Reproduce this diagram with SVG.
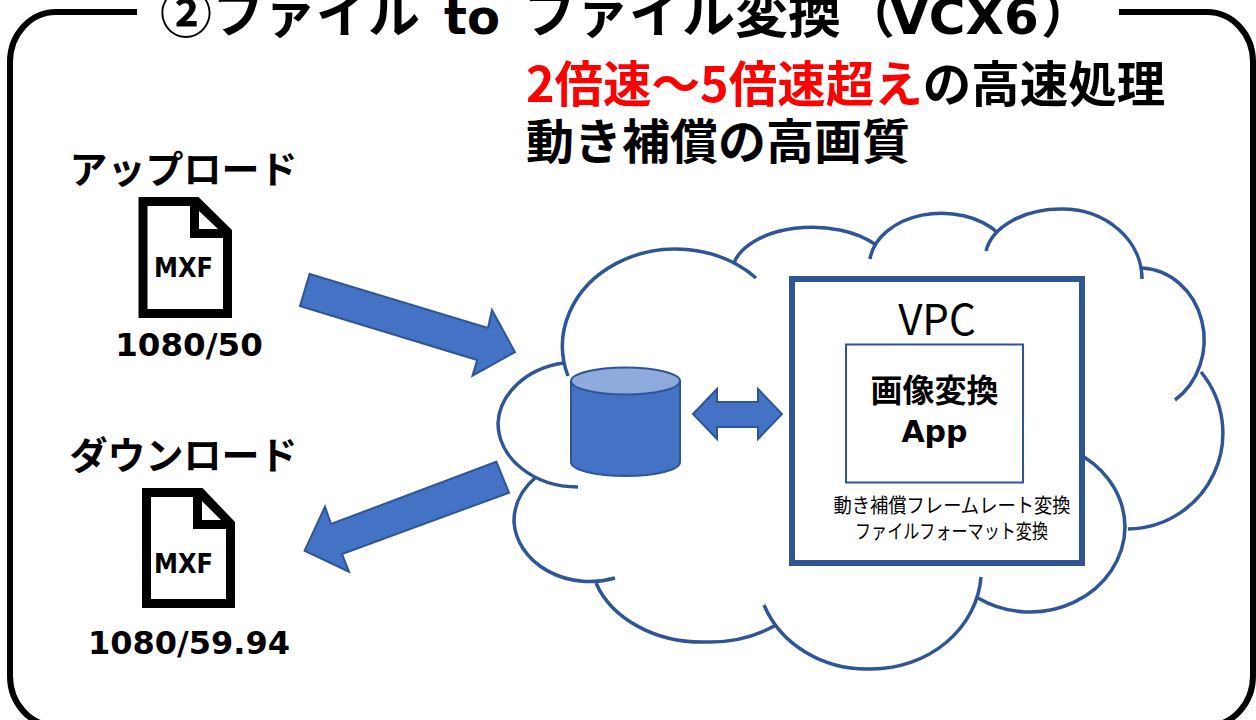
<svg xmlns="http://www.w3.org/2000/svg" width="1256" height="720" viewBox="0 0 1256 720">
<style>
.j{font-family:"Noto Sans CJK JP","Noto Sans",sans-serif;font-weight:700;fill:#000}
.l{font-family:"DejaVu Sans",sans-serif;font-weight:700;fill:#000}
.n{font-family:"Noto Sans CJK JP","Noto Sans",sans-serif;font-weight:400;fill:#000}
.c{fill:none;stroke:#2f5597;stroke-width:3.5}
.b{fill:#4472c4;stroke:#2f5597;stroke-width:2}
</style>
<rect width="1256" height="720" fill="#fff"/>
<path id="frame" d="M137 12H56A46 50 0 0 0 10 62V676A46 50 0 0 0 56 726H1207A46 50 0 0 0 1253 676V62A46 50 0 0 0 1207 12H1119" fill="none" stroke="#000" stroke-width="6"/>
<g id="title">
<text class="j" x="160" y="33" font-size="52">②ファイル</text>
<text class="l" x="444" y="34" font-size="48">to</text>
<text class="j" x="523" y="33" font-size="53">ファイル変換</text>
<text class="j" x="843" y="33" font-size="52">（</text>
<text class="l" x="890" y="33.500" font-size="50">VCX6</text>
<text class="j" x="1041" y="33" font-size="52">）</text>
</g>
<g id="headline">
<text class="j" x="526" y="102" font-size="48.500"><tspan fill="#f00">2倍速～5倍速超え</tspan>の高速処理</text>
<text class="j" x="526" y="159" font-size="48">動き補償の高画質</text>
</g>
<g id="cloud">
<path class="c" d="M568 376A113 97 0 0 1 756 278"/>
<path class="c" d="M734 263A80 45 0 0 1 876 245"/>
<path class="c" d="M870 259A72 52 0 0 1 998 233"/>
<path class="c" d="M986 251A76 50 0 0 1 1062 209A80 70 0 0 1 1142 279"/>
<path class="c" d="M1142 268A65 72 0 0 1 1175 400"/>
<path class="c" d="M1201 372A96 96 0 0 1 1128 529"/>
<path class="c" d="M1084 457A95 86 0 0 1 1125 527A95 86 0 0 1 978 598"/>
<path class="c" d="M981 577A110 99 0 0 1 871 669A110 99 0 0 1 764 605"/>
<path class="c" d="M776 625A112 87 0 0 1 707 642A112 87 0 0 1 596 583"/>
<path class="c" d="M615 578A76 63 0 0 1 514 522A76 63 0 0 1 535 478"/>
<path class="c" d="M578 487A80 64 0 0 1 498 423A80 64 0 0 1 563 363"/>
</g>
<g id="connectors">
<polygon class="b" points="309.6,274 488,328 492,310 515,352 472.5,375.7 477.2,360 300,306"/>
<polygon class="b" points="496.4,461.7 331,524 325,506.7 304.6,550.7 349,571.7 342,554 509,492.7"/>
<polygon class="b" points="693,414 717,389 717,402 758,402 758,389 782,414 758,439 758,427 717,427 717,439"/>
</g>
<g id="storage">
<path class="b" d="M571 381V462C571 470 595 476 625.500 476C656 476 680 470 680 462V381Z"/>
<ellipse cx="625.500" cy="381" rx="54.500" ry="13.500" fill="#8faadc" stroke="#2f5597" stroke-width="2"/>
</g>
<g id="vpc">
<rect x="792" y="279" width="290" height="284" fill="#fff" stroke="#2f5597" stroke-width="6"/>
<text class="n" x="937" y="335" font-size="42" text-anchor="middle">VPC</text>
<text class="n" x="952" y="513" font-size="20" text-anchor="middle" textLength="237" lengthAdjust="spacingAndGlyphs">動き補償フレームレート変換</text>
<text class="n" x="951.500" y="539" font-size="20" text-anchor="middle" textLength="193" lengthAdjust="spacingAndGlyphs">ファイルフォーマット変換</text>
</g>
<g id="app">
<rect x="846" y="344.500" width="177" height="138" fill="#fff" stroke="#2f5597" stroke-width="2"/>
<text class="j" x="934.500" y="402" font-size="32" text-anchor="middle">画像変換</text>
<text class="l" x="934.500" y="442" font-size="30" text-anchor="middle">App</text>
</g>
<g id="upload">
<text class="j" x="183.500" y="183" font-size="38" text-anchor="middle">アップロード</text>
<path fill-rule="evenodd" d="M138.500 197H198.500L232 230V318H138.500ZM147.500 206V309H223V238H190V206ZM199 211V229H218Z"/>
<text class="l" x="183.500" y="277" font-size="26" text-anchor="middle" textLength="59" lengthAdjust="spacingAndGlyphs">MXF</text>
<text class="l" x="189" y="356" font-size="32.500" text-anchor="middle">1080/50</text>
</g>
<g id="download">
<text class="j" x="183.500" y="469" font-size="38" text-anchor="middle">ダウンロード</text>
<path fill-rule="evenodd" d="M142 488H202.500L235 522V608H142ZM151 497V599H226V529H193V497ZM202 501V520H221Z"/>
<text class="l" x="183.500" y="573" font-size="26" text-anchor="middle" textLength="59" lengthAdjust="spacingAndGlyphs">MXF</text>
<text class="l" x="189" y="654" font-size="32" text-anchor="middle">1080/59.94</text>
</g>
</svg>
